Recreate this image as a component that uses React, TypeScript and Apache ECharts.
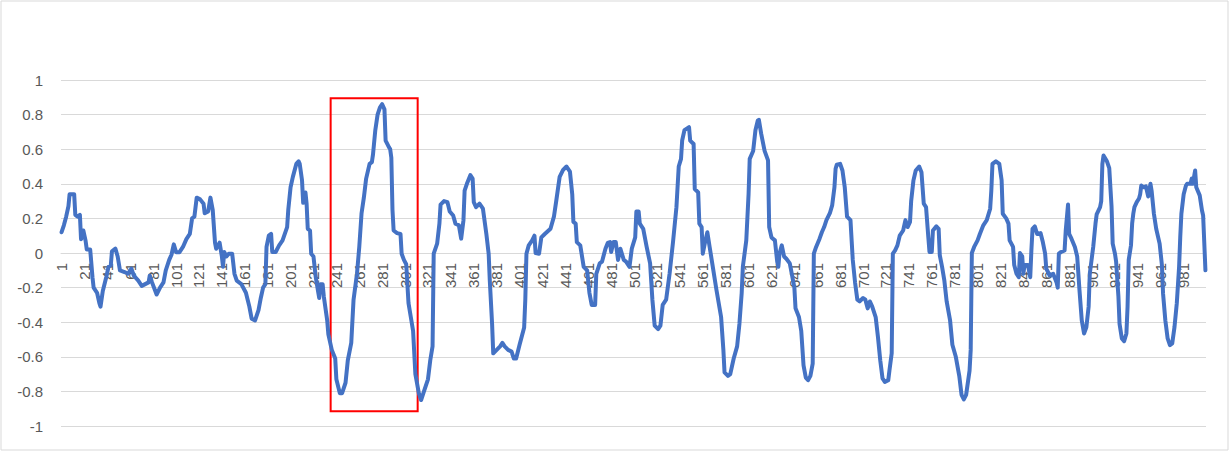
import React, { useEffect, useRef } from "react";
import * as echarts from "echarts";

const CATEGORY_COUNT = 1000;
const categories: string[] = Array.from({ length: CATEGORY_COUNT }, (_, k) => String(k + 1));

// sampled points of the curve: category number (1-based) and value
const pointIndex: number[] = [
  1, 3, 5, 7, 8, 12, 13, 15, 17, 18, 20, 22, 23, 26, 28, 29, 32, 34, 35, 37, 40, 42, 44, 45, 48, 50,
  52, 56, 59, 62, 64, 68, 71, 74, 77, 78, 80, 84, 87, 90, 92, 95, 97, 99, 101, 104, 107, 110, 113, 115,
  117, 119, 122, 125, 126, 129, 131, 133, 135, 136, 139, 141, 142, 143, 145, 147, 150, 152, 154, 158,
  162, 165, 167, 170, 173, 175, 177, 179, 180, 182, 184, 185, 188, 191, 194, 198, 199, 201, 203, 206,
  208, 209, 211, 212, 214, 215, 216, 218, 219, 221, 223, 225, 226, 227, 229, 230, 233, 234, 237, 240,
  241, 244, 246, 249, 251, 254, 256, 259, 261, 263, 265, 267, 270, 272, 273, 275, 277, 279, 281, 283,
  284, 287, 288, 289, 290, 291, 294, 297, 298, 300, 302, 304, 306, 308, 310, 313, 315, 318, 321, 323,
  325, 326, 329, 331, 332, 335, 338, 340, 343, 345, 348, 350, 352, 353, 355, 358, 360, 361, 363, 366,
  369, 372, 374, 375, 377, 378, 381, 384, 386, 388, 391, 394, 396, 398, 401, 405, 406, 407, 409, 412,
  414, 415, 418, 420, 423, 428, 431, 433, 436, 439, 442, 445, 447, 448, 450, 451, 454, 457, 460, 462,
  464, 467, 468, 471, 473, 476, 478, 480, 481, 483, 485, 487, 489, 492, 494, 497, 499, 502, 503, 505,
  506, 509, 512, 515, 517, 519, 522, 524, 526, 529, 532, 535, 538, 540, 542, 543, 545, 549, 550, 553,
  554, 557, 558, 560, 561, 563, 565, 567, 570, 573, 577, 579, 580, 583, 585, 588, 591, 593, 595, 596,
  599, 601, 602, 605, 607, 609, 610, 612, 615, 618, 619, 621, 624, 626, 627, 628, 630, 632, 634, 637,
  639, 641, 642, 645, 647, 649, 651, 653, 655, 657, 658, 660, 663, 665, 667, 669, 672, 674, 676, 677,
  678, 681, 683, 685, 687, 690, 692, 694, 696, 698, 701, 703, 705, 707, 709, 712, 714, 716, 718, 720,
  723, 724, 726, 727, 729, 731, 733, 736, 738, 740, 742, 743, 745, 747, 750, 752, 754, 756, 758, 759,
  761, 762, 765, 767, 768, 770, 772, 774, 777, 779, 782, 785, 787, 789, 791, 794, 795, 796, 798, 801,
  803, 806, 809, 812, 813, 814, 817, 820, 822, 823, 826, 828, 829, 832, 833, 835, 837, 838, 840, 841,
  842, 845, 847, 848, 849, 851, 853, 856, 858, 860, 861, 864, 867, 870, 871, 872, 874, 877, 878, 880,
  881, 883, 886, 888, 890, 892, 894, 896, 898, 899, 902, 904, 905, 908, 909, 910, 911, 914, 916, 918,
  919, 921, 922, 924, 925, 927, 929, 931, 932, 933, 935, 936, 937, 938, 940, 942, 943, 944, 946, 948,
  950, 952, 953, 955, 957, 960, 962, 963, 965, 967, 969, 971, 973, 975, 977, 978, 979, 981, 983, 984,
  987, 988, 989, 991, 992, 995, 997, 998, 1000,
];

const pointValue: number[] = [
  0.12, 0.16, 0.21, 0.27, 0.34, 0.34, 0.22, 0.21, 0.22, 0.08, 0.13, 0.07, 0.02, 0.02, -0.14, -0.2, -0.23, -0.29, -0.31, -0.22, -0.14, -0.08, -0.07, 0.01, 0.025, -0.02,
  -0.1, -0.11, -0.12, -0.09, -0.13, -0.16, -0.19, -0.18, -0.17, -0.13, -0.17, -0.24, -0.2, -0.17, -0.1, -0.04, -0.01, 0.05, 0.005, 0.005, 0.035, 0.08, 0.11, 0.2,
  0.21, 0.32, 0.31, 0.285, 0.23, 0.24, 0.32, 0.25, 0.06, 0.025, 0.06, -0.02, -0.08, 0.006, -0.02, -0.004, -0.004, -0.12, -0.16, -0.18,
  -0.23, -0.31, -0.38, -0.39, -0.33, -0.26, -0.2, -0.18, 0.035, 0.1, 0.11, 0.006, 0.006, 0.044, 0.073, 0.15, 0.25, 0.38, 0.44, 0.515,
  0.53, 0.515, 0.42, 0.29, 0.35, 0.285, 0.14, 0.13, -0.004, -0.02, -0.14, -0.22, -0.26, -0.18, -0.18, -0.25, -0.39, -0.47, -0.56, -0.61,
  -0.73, -0.81, -0.81, -0.75, -0.62, -0.52, -0.27, -0.12, 0.035, 0.23, 0.32, 0.43, 0.515, 0.525, 0.57, 0.71, 0.8, 0.84, 0.86, 0.83,
  0.65, 0.61, 0.6, 0.55, 0.25, 0.13, 0.115, 0.11, -0.004, -0.04, -0.065, -0.29, -0.37, -0.45, -0.7, -0.81, -0.85, -0.79, -0.73, -0.62,
  -0.54, -0.004, 0.054, 0.17, 0.28, 0.3, 0.294, 0.24, 0.217, 0.17, 0.16, 0.083, 0.19, 0.36, 0.4, 0.45, 0.43, 0.294, 0.265, 0.285,
  0.256, 0.11, -0.004, -0.16, -0.41, -0.58, -0.56, -0.54, -0.52, -0.54, -0.56, -0.57, -0.61, -0.61, -0.53, -0.43, -0.27, -0.004, 0.044, 0.073,
  0.1, 0, -0.004, 0.09, 0.11, 0.14, 0.21, 0.3, 0.44, 0.48, 0.5, 0.47, 0.34, 0.18, 0.17, 0.063, 0.044, -0.08, -0.1, -0.23,
  -0.3, -0.3, -0.12, -0.06, -0.05, 0.025, 0.058, 0.063, 0.006, 0.063, 0.063, -0.04, 0.025, -0.04, -0.05, -0.08, 0.025, 0.09, 0.24, 0.24,
  0.17, 0.14, 0.035, -0.06, -0.27, -0.42, -0.44, -0.42, -0.3, -0.27, -0.12, 0.063, 0.265, 0.5, 0.544, 0.65, 0.71, 0.727, 0.65, 0.63,
  0.37, 0.35, 0.17, 0.15, -0.004, 0.063, 0.12, 0.035, -0.09, -0.215, -0.37, -0.56, -0.69, -0.71, -0.7, -0.61, -0.54, -0.41, -0.23, -0.08,
  0.073, 0.34, 0.544, 0.59, 0.71, 0.765, 0.77, 0.69, 0.59, 0.535, 0.15, 0.09, 0.073, -0.05, -0.08, -0.004, 0.044, -0.02, -0.033, -0.06,
  -0.13, -0.2, -0.32, -0.37, -0.45, -0.65, -0.72, -0.735, -0.71, -0.64, -0.004, 0.035, 0.083, 0.12, 0.15, 0.19, 0.23, 0.275, 0.38, 0.487,
  0.51, 0.515, 0.477, 0.38, 0.21, 0.19, -0.04, -0.17, -0.27, -0.28, -0.26, -0.27, -0.32, -0.28, -0.31, -0.37, -0.485, -0.62, -0.725, -0.745,
  -0.735, -0.68, -0.58, -0.004, 0.015, 0.044, 0.1, 0.13, 0.19, 0.15, 0.18, 0.3, 0.42, 0.477, 0.5, 0.467, 0.285, 0.265, 0.09, 0.006,
  0.006, 0.13, 0.154, 0.14, -0.013, -0.08, -0.16, -0.28, -0.39, -0.53, -0.6, -0.71, -0.82, -0.846, -0.82, -0.68, -0.56, 0, 0.035, 0.073,
  0.11, 0.16, 0.19, 0.256, 0.36, 0.515, 0.53, 0.515, 0.42, 0.227, 0.2, 0.17, 0.073, 0.035, -0.07, -0.12, -0.14, 0, -0.02, -0.12,
  -0.07, -0.07, -0.14, 0.015, 0.14, 0.154, 0.11, 0.115, 0.063, -0.004, -0.09, -0.13, -0.12, -0.17, -0.2, -0.004, 0.006, 0.015, 0.13, 0.28,
  0.11, 0.083, 0.035, -0.02, -0.215, -0.39, -0.465, -0.43, -0.31, -0.12, 0.035, 0.17, 0.223, 0.265, 0.3, 0.515, 0.563, 0.53, 0.49, 0.27,
  0.054, -0.004, -0.05, -0.25, -0.41, -0.494, -0.51, -0.465, -0.31, -0.04, 0.045, 0.17, 0.227, 0.265, 0.294, 0.315, 0.34, 0.39, 0.38, 0.385,
  0.327, 0.4, 0.36, 0.227, 0.14, 0.054, -0.07, -0.235, -0.39, -0.494, -0.533, -0.523, -0.427, -0.29, -0.08, 0.09, 0.227, 0.34, 0.39, 0.4,
  0.4, 0.43, 0.4, 0.477, 0.38, 0.333, 0.246, 0.217, -0.1,
];

// highlighted window (category numbers and value bounds)
const highlightFrom = "236";
const highlightTo = "312";
const highlightTop = 0.894;
const highlightBottom = -0.915;

const yTicks = { min: -1, max: 1, interval: 0.2 };

const GRID = { left: 61, right: 24, top: 80, bottom: 26 };
const CHART_W = 1230;
const CHART_H = 452;

export default function App() {
  const ref = useRef<HTMLDivElement>(null);
  useEffect(() => {
    document.body.style.margin = "0";
    if (!ref.current) return;
    const chart = echarts.init(ref.current, undefined, { renderer: "svg" });
    const n = Math.min(pointIndex.length, pointValue.length);
    const data: [number, number][] = [];
    for (let k = 0; k < n; k++) data.push([pointIndex[k] - 1, pointValue[k]]);
    // place the category axis where the value axis crosses zero
    const plotH = CHART_H - GRID.top - GRID.bottom;
    const zeroOffset = -plotH * ((0 - yTicks.min) / (yTicks.max - yTicks.min));
    const labelFont = { color: "#595959", fontSize: 15, fontFamily: "Liberation Sans, Arial, sans-serif" };
    chart.setOption({
      animation: false,
      backgroundColor: "#ffffff",
      grid: { ...GRID, containLabel: false, outerBoundsMode: "none" },
      xAxis: {
        type: "category",
        data: categories,
        boundaryGap: true,
        position: "bottom",
        offset: zeroOffset,
        axisLine: { show: true, onZero: false, lineStyle: { color: "#d9d9d9", width: 1 } },
        axisTick: { show: false },
        splitLine: { show: false },
        axisLabel: { ...labelFont, interval: 19, rotate: 90, margin: 10 },
      },
      yAxis: {
        type: "value",
        min: yTicks.min,
        max: yTicks.max,
        interval: yTicks.interval,
        axisLine: { show: false },
        axisTick: { show: false },
        splitLine: { show: true, lineStyle: { color: "#d9d9d9", width: 1 } },
        axisLabel: {
          ...labelFont,
          margin: 18,
          formatter: (v: number) => {
            const r = Math.round(v * 10) / 10;
            return r === 0 ? "0" : String(r);
          },
        },
      },
      graphic: [
        {
          type: "rect",
          shape: { x: 1, y: 1, width: CHART_W - 3, height: CHART_H - 3 },
          style: { fill: "none", stroke: "#d9d9d9", lineWidth: 1 },
          silent: true,
        },
      ],
      series: [
        {
          type: "line",
          data,
          showSymbol: false,
          symbol: "none",
          lineStyle: { color: "#4472C4", width: 4, join: "round", cap: "round" },
          itemStyle: { color: "#4472C4" },
          markArea: {
            silent: true,
            itemStyle: { color: "rgba(0,0,0,0)", borderColor: "#ff0000", borderWidth: 2 },
            data: [
              [
                { xAxis: highlightFrom, yAxis: highlightTop },
                { xAxis: highlightTo, yAxis: highlightBottom },
              ],
            ],
          },
        },
      ],
    });
    return () => chart.dispose();
  }, []);
  return <div ref={ref} style={{ width: CHART_W, height: CHART_H }} />;
}
